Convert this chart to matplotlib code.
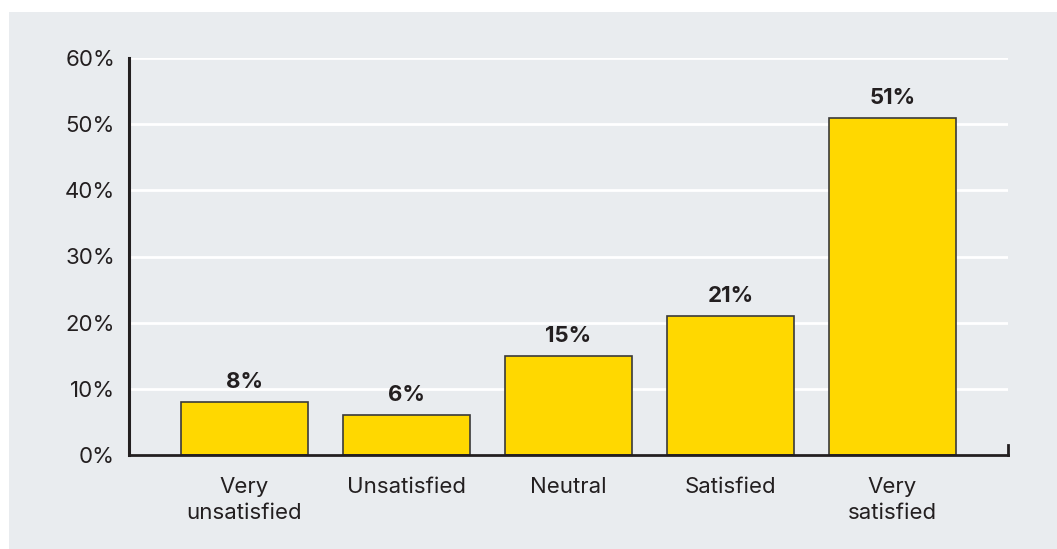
import matplotlib.pyplot as plt
from matplotlib.patches import Rectangle

categories = ["Very\nunsatisfied", "Unsatisfied", "Neutral", "Satisfied", "Very\nsatisfied"]
values = [8, 6, 15, 21, 51]
yticks = [0, 10, 20, 30, 40, 50, 60]

bg = "#E9ECEF"
ink = "#231F20"
bar_color = "#FFD800"

plt.rcParams['font.family'] = ['Inter', 'DejaVu Sans']

fig = plt.figure(figsize=(10.57, 5.49), dpi=100)
fig.patch.set_facecolor("white")
# light gray panel behind the chart
fig.patches.append(Rectangle((9 / 1057, 0), 1 - 9 / 1057, 1 - 12 / 549,
                             transform=fig.transFigure, facecolor=bg,
                             edgecolor="none", zorder=-10))

ax = fig.add_axes([129 / 1057, 94 / 549, (1008 - 129) / 1057, (455 - 58) / 549])
ax.set_facecolor(bg)

x = list(range(len(categories)))
ax.bar(x, values, width=0.784, color=bar_color, edgecolor="#3a3a3a",
       linewidth=1.2, zorder=3)

for xi, v in zip(x, values):
    ax.text(xi, v + 1.5, f"{v}%", ha="center", va="bottom", fontsize=16,
            fontweight="bold", color=ink, zorder=4)

ax.set_xlim(-0.713, 4.713)
ax.set_ylim(0, 60)
ax.set_yticks(yticks)
ax.set_yticklabels([f"{t}%" for t in yticks], fontsize=16, color=ink)
ax.set_xticks(x)
ax.set_xticklabels(categories, fontsize=16, color=ink, linespacing=1.38)
ax.tick_params(axis="both", length=0)
ax.tick_params(axis="y", pad=10)
ax.tick_params(axis="x", pad=16)

ax.grid(axis="y", color="white", linewidth=2, zorder=1)
ax.set_axisbelow(True)

for side in ["top", "right"]:
    ax.spines[side].set_visible(False)
ax.spines["left"].set_color(ink)
ax.spines["left"].set_linewidth(2.2)
ax.spines["bottom"].set_color(ink)
ax.spines["bottom"].set_linewidth(2)
ax.spines["left"].set_zorder(5)
ax.spines["bottom"].set_zorder(5)

# small upward tick closing the x axis on the right
ax.plot([1, 1], [0, 0.025], transform=ax.transAxes, color=ink, lw=2,
        clip_on=False, zorder=5)

fig.savefig("out.png", dpi=100, facecolor=fig.get_facecolor())
